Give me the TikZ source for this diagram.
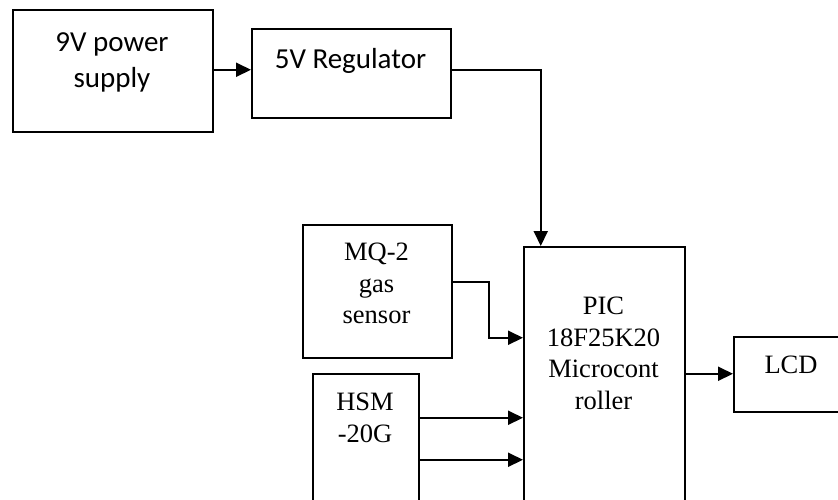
\documentclass[tikz,border=0pt]{standalone}
\usepackage{fontspec}
\setmainfont{Liberation Serif}
\newfontfamily\calib{Carlito}
\usetikzlibrary{arrows.meta,calc}
\tikzset{
  blk/.style={draw, line width=1.5pt, rectangle, inner sep=0pt, anchor=north west},
  conn/.style={line width=2pt, -{Triangle[length=15pt,width=14pt]}},
  sanstxt/.style={font=\calib\fontsize{29}{36}\selectfont, align=center, inner sep=0pt},
  sertxt/.style={font=\fontsize{26.5}{31.5}\selectfont, align=center, inner sep=0pt},
}
\begin{document}
\begin{tikzpicture}[x=1pt,y=-1pt]
\clip (0,0) rectangle (838,499);
\fill[white] (0,0) rectangle (838,499);
% boxes
\node[blk, minimum width=200pt, minimum height=122pt] (ps) at (12,9) {};
\node[blk, minimum width=199pt, minimum height=89pt] (reg) at (251,28) {};
\node[blk, minimum width=149pt, minimum height=133pt] (mq) at (302,224) {};
\node[blk, minimum width=106pt, minimum height=157pt] (hsm) at (312,373) {};
\node[blk, minimum width=161pt, minimum height=314pt] (pic) at (523,246) {};
\node[blk, minimum width=116pt, minimum height=75pt] (lcd) at (733,336) {};
% texts
\node[sanstxt, anchor=north] (pst) at (112,32) {9V power\\supply};
\node[sanstxt, anchor=base] (regt) at (350.5,68) {5V Regulator};
\node[sertxt, anchor=north] (mqt) at (376.5,243) {MQ-2\\gas\\sensor};
\node[sertxt, anchor=north] (hsmt) at (365,393) {HSM\\-20G};
\node[sertxt, anchor=north] (pict) at (603.5,297) {PIC\\18F25K20\\Microcont\\roller};
\node[sertxt, anchor=base] (lcdt) at (791,373) {LCD};
% connectors
\draw[conn] ([yshift=1pt]ps.east) -- ([yshift=3.5pt]reg.west);
\draw[conn] ([yshift=3.5pt]reg.east) -| ([xshift=-63.5pt]pic.north);
\draw[conn] ([yshift=9.5pt]mq.east) -- ++(36,0) |- ([yshift=66pt]pic.west);
\draw[conn] ([yshift=34.5pt]hsm.east) -- ([yshift=34.5pt]hsm.east -| pic.west);
\draw[conn] ([yshift=-7.5pt]hsm.east) -- ([yshift=-7.5pt]hsm.east -| pic.west);
\draw[conn] ([yshift=30pt]pic.east) -- ([yshift=30pt]pic.east -| lcd.west);
\end{tikzpicture}
\end{document}
